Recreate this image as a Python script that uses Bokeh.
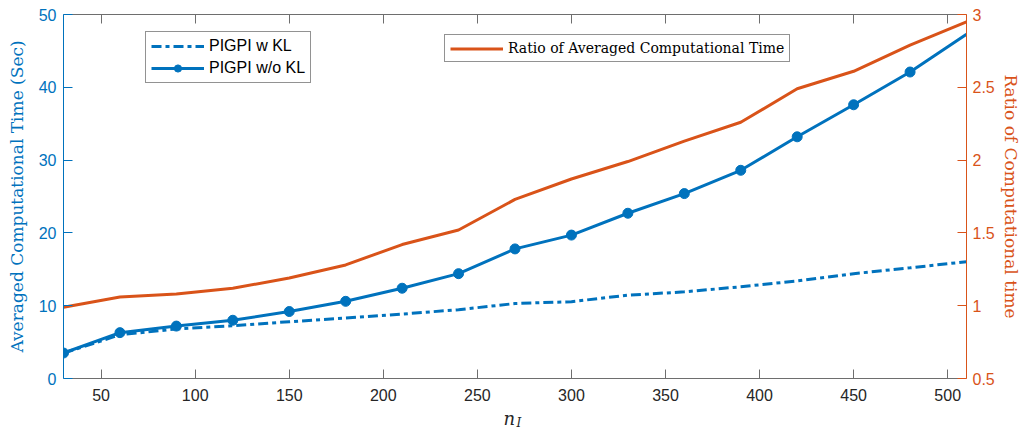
from bokeh.plotting import figure
from bokeh.models import (Range1d, LinearAxis, FixedTicker, Legend, LegendItem,
                          Label, CustomJSTickFormatter)
from bokeh.embed import file_html
from bokeh.resources import INLINE

# ---------------- data ----------------
n_I = [30, 60, 90, 120, 150, 180, 210, 240, 270, 300, 330, 360, 390, 420, 450, 480, 510]
time_w_kl = [3.5, 6.0, 6.8, 7.25, 7.8, 8.3, 8.85, 9.45, 10.3, 10.55, 11.45, 11.9, 12.6, 13.4,
             14.4, 15.2, 16.05]
time_wo_kl = [3.5, 6.3, 7.2, 8.0, 9.2, 10.6, 12.4, 14.4, 17.8, 19.7, 22.7, 25.4, 28.6, 33.2,
              37.6, 42.1, 47.3]
ratio = [0.99, 1.06, 1.08, 1.12, 1.19, 1.28, 1.42, 1.52, 1.73, 1.87, 1.99, 2.13, 2.26, 2.49,
         2.61, 2.79, 2.95]
x_ticks = [50, 100, 150, 200, 250, 300, 350, 400, 450, 500]
y_ticks = [0, 10, 20, 30, 40, 50]
ratio_ticks = [0.5, 1, 1.5, 2, 2.5, 3]
legend_labels = ["PIGPI w KL", "PIGPI w/o KL", "Ratio of Averaged Computational Time"]

BLUE = "#0072BD"
ORANGE = "#D95319"
DARK = "#262626"
SPINE = "#6e6e6e"
SANS = "Liberation Sans"
SERIF = "DejaVu Serif"

p = figure(width=1024, height=430, output_backend="svg", toolbar_location=None,
           x_range=Range1d(30, 510), y_range=Range1d(0, 50),
           min_border_left=63, min_border_right=58, min_border_top=14, min_border_bottom=52,
           background_fill_color="white", border_fill_color="white")
p.outline_line_color = None
p.grid.visible = False
p.extra_y_ranges = {"ratio": Range1d(0.5, 3)}

# bottom axis
xa = p.xaxis[0]
xa.ticker = FixedTicker(ticks=x_ticks)
xa.major_tick_in = 9
xa.major_tick_out = 0
xa.minor_tick_line_color = None
xa.axis_line_color = SPINE
xa.major_tick_line_color = SPINE
xa.major_label_text_color = DARK
xa.major_label_text_font = SANS
xa.major_label_text_font_size = "16px"
xa.major_label_standoff = 10

# left axis
ya = p.yaxis[0]
ya.ticker = FixedTicker(ticks=y_ticks)
ya.major_tick_in = 9
ya.major_tick_out = 0
ya.minor_tick_line_color = None
ya.axis_line_color = BLUE
ya.major_tick_line_color = BLUE
ya.major_label_text_color = BLUE
ya.major_label_text_font = SANS
ya.major_label_text_font_size = "16px"
ya.major_label_standoff = 7
ya.axis_label = "Averaged Computational Time (Sec)"
ya.axis_label_text_font = SERIF
ya.axis_label_text_font_style = "normal"
ya.axis_label_text_font_size = "17px"
ya.axis_label_text_color = BLUE
ya.axis_label_standoff = 9

# right axis
ra = LinearAxis(y_range_name="ratio", ticker=FixedTicker(ticks=ratio_ticks),
                formatter=CustomJSTickFormatter(code="return tick.toString();"))
ra.major_tick_in = 9
ra.major_tick_out = 0
ra.minor_tick_line_color = None
ra.axis_line_color = ORANGE
ra.major_tick_line_color = ORANGE
ra.major_label_text_color = ORANGE
ra.major_label_text_font = SANS
ra.major_label_text_font_size = "16px"
ra.major_label_standoff = 6
ra.axis_label = "Ratio of Computational time"
ra.axis_label_text_font = SERIF
ra.axis_label_text_font_style = "normal"
ra.axis_label_text_font_size = "17px"
ra.axis_label_text_color = ORANGE
ra.axis_label_standoff = 3
p.add_layout(ra, "right")

# top axis (box), ticks only
ta = LinearAxis(ticker=FixedTicker(ticks=x_ticks),
                formatter=CustomJSTickFormatter(code="return '';"))
ta.major_tick_in = 9
ta.major_tick_out = 0
ta.minor_tick_line_color = None
ta.axis_line_color = SPINE
ta.major_tick_line_color = SPINE
ta.major_label_text_font_size = "1px"
ta.major_label_standoff = 0
p.add_layout(ta, "above")

# glyphs
r_ratio = p.line(n_I, ratio, y_range_name="ratio", line_color=ORANGE, line_width=3)
r_dash = p.line(n_I, time_w_kl, line_color=BLUE, line_width=3, line_dash="10 4 4 4")
r_solid = p.line(n_I, time_wo_kl, line_color=BLUE, line_width=3)
r_mark = p.scatter(n_I[:-1], time_wo_kl[:-1], size=10, fill_color=BLUE, line_color=BLUE)

# legends
leg1 = Legend(items=[LegendItem(label=legend_labels[0], renderers=[r_dash]),
                     LegendItem(label=legend_labels[1], renderers=[r_solid, r_mark])],
              location=(82, 295))
leg1.glyph_width = 53
leg1.glyph_height = 18
leg1.label_height = 18
leg1.padding = 5
leg1.spacing = 4
leg1.label_standoff = 5
leg1.margin = 0
leg1.label_text_font = SANS
leg1.label_text_font_size = "16px"
leg1.label_text_color = "black"
leg1.border_line_color = DARK
leg1.border_line_width = 1
leg1.background_fill_color = "white"
leg1.background_fill_alpha = 1
p.add_layout(leg1, "center")

leg2 = Legend(items=[LegendItem(label=legend_labels[2], renderers=[r_ratio])],
              location=(381, 316))
leg2.glyph_width = 53
leg2.glyph_height = 15
leg2.label_height = 15
leg2.padding = 5
leg2.label_standoff = 5
leg2.margin = 0
leg2.label_text_font = SERIF
leg2.label_text_font_size = "14px"
leg2.label_text_color = "black"
leg2.border_line_color = DARK
leg2.border_line_width = 1
leg2.background_fill_color = "white"
leg2.background_fill_alpha = 1
p.add_layout(leg2, "center")

# x axis label n_I (placed in side panels so it is not clipped by the frame)
p.add_layout(Label(x=440, y=6, x_units="screen", y_units="screen", text="n",
                   text_font=SERIF, text_font_style="italic", text_font_size="18px",
                   text_color=DARK, text_baseline="alphabetic", text_align="left"), "below")
p.add_layout(Label(x=453, y=-408, x_units="screen", y_units="screen", text="I",
                   text_font=SERIF, text_font_style="italic", text_font_size="12px",
                   text_color=DARK, text_baseline="alphabetic", text_align="left"), "above")

open("out.html", "w").write(file_html(p, INLINE))
